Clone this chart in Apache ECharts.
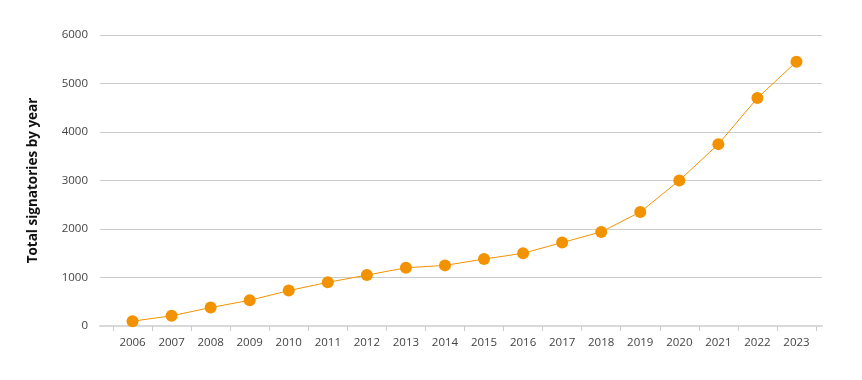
<!DOCTYPE html>
<html><head><meta charset="utf-8">
<script src="https://cdn.jsdelivr.net/npm/echarts@6/dist/echarts.min.js"></script>
<style>html,body{margin:0;padding:0;background:#fff}#c{width:862px;height:380px}</style>
</head><body><div id="c"></div>
<script>
const years = ['2006','2007','2008','2009','2010','2011','2012','2013','2014','2015','2016','2017','2018','2019','2020','2021','2022','2023'];
const signatories = [100,210,380,530,730,900,1050,1200,1250,1380,1500,1720,1940,2350,3000,3750,4700,5450];
const yTicks = [0,1000,2000,3000,4000,5000,6000];
const yTitle = 'Total signatories by year';

const chart = echarts.init(document.getElementById('c'));
const font = 'Open Sans';
chart.setOption({
  animation: false,
  grid: [
    {left: 100, right: 40, top: 35, bottom: 54},
    {left: 113, right: 46, top: 35, bottom: 54}
  ],
  xAxis: [
    {gridIndex: 0, type: 'category', data: years, axisLabel: {show: false}, axisTick: {show: false},
     axisLine: {show: true, lineStyle: {color: '#d9d9d9', width: 2}}},
    {gridIndex: 1, type: 'category', data: years, boundaryGap: true,
     axisLine: {show: false},
     axisTick: {show: true, length: 5, lineStyle: {color: '#cccccc', width: 1}},
     axisLabel: {color: '#444', fontSize: 11.5, fontFamily: font, margin: 11}}
  ],
  yAxis: [
    {gridIndex: 0, type: 'value', min: yTicks[0], max: yTicks[yTicks.length-1], interval: 1000,
     axisLine: {show: false}, axisTick: {show: false},
     axisLabel: {color: '#444', fontSize: 11.5, fontFamily: font, margin: 12, formatter: v => String(v)},
     splitLine: {lineStyle: {color: '#cccccc', width: 1}},
     name: yTitle, nameLocation: 'middle', nameGap: 60, nameRotate: 90,
     nameTextStyle: {fontFamily: font, fontWeight: 'bold', fontSize: 13.5, color: '#111'}},
    {gridIndex: 1, type: 'value', min: yTicks[0], max: yTicks[yTicks.length-1], interval: 1000, show: false,
     splitLine: {show: false}}
  ],
  series: [{
    type: 'line', xAxisIndex: 1, yAxisIndex: 1, data: signatories,
    symbol: 'circle', symbolSize: 12,
    itemStyle: {color: '#f39200'},
    lineStyle: {color: '#f39200', width: 1}
  }]
});
</script></body></html>
